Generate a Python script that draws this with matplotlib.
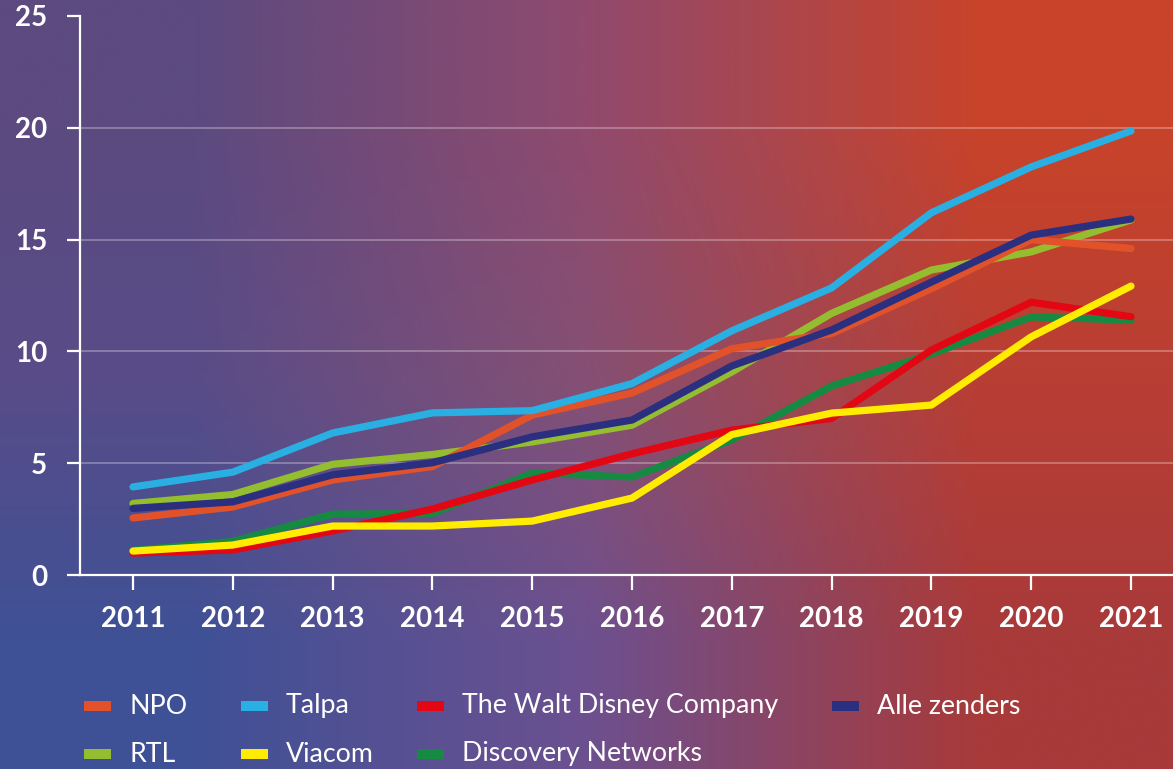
import numpy as np
import matplotlib.pyplot as plt
from matplotlib.colors import to_rgb
from matplotlib.patches import Rectangle

plt.rcParams['font.family'] = ['Lato', 'DejaVu Sans']

years = [2011, 2012, 2013, 2014, 2015, 2016, 2017, 2018, 2019, 2020, 2021]

npo       = [2.55, 3.04, 4.25, 4.85, 7.15, 8.14, 10.12, 10.8, 12.8, 15.0, 14.6]
talpa     = [3.94, 4.6, 6.35, 7.25, 7.35, 8.56, 10.92, 12.84, 16.2, 18.25, 19.86]
disney    = [0.98, 1.12, 1.97, 2.95, 4.25, 5.42, 6.48, 7.0, 10.06, 12.2, 11.55]
alle      = [2.98, 3.27, 4.48, 5.02, 6.18, 6.93, 9.35, 10.96, 13.1, 15.2, 15.92]
rtl       = [3.2, 3.6, 4.95, 5.39, 5.95, 6.7, 9.08, 11.7, 13.64, 14.45, 15.88]
viacom    = [1.07, 1.34, 2.19, 2.19, 2.41, 3.44, 6.28, 7.24, 7.6, 10.65, 12.92]
discovery = [1.1, 1.5, 2.72, 2.75, 4.56, 4.38, 6.04, 8.45, 9.88, 11.54, 11.4]

names = ['NPO', 'Talpa', 'The Walt Disney Company', 'Alle zenders',
         'RTL', 'Viacom', 'Discovery Networks']
series = [npo, talpa, disney, alle, rtl, viacom, discovery]
colors = ['#E2522A', '#2AAFE3', '#E30613', '#2B2F80',
          '#94BE2F', '#FFEC00', '#168A43']
# drawing order (bottom to top)
order = [6, 4, 0, 2, 5, 3, 1]

fig = plt.figure(figsize=(11.73, 7.69), dpi=100)

# background gradient
bg = np.array([
    [to_rgb('#5C4A80'), to_rgb('#904A6E'), to_rgb('#C8432A')],
    [to_rgb('#584C88'), to_rgb('#855074'), to_rgb('#B83E34')],
    [to_rgb('#3F5196'), to_rgb('#6C5090'), to_rgb('#A83A3A')],
])
bax = fig.add_axes([0, 0, 1, 1])
bax.imshow(bg, aspect='auto', interpolation='bilinear', extent=[0, 1, 0, 1])
bax.set_axis_off()

ax = fig.add_axes([80 / 1173, 1 - 575 / 769, 1 - 80 / 1173, (575 - 16) / 769])
ax.patch.set_alpha(0)

for i in order:
    ax.plot(years, series[i], color=colors[i], lw=5.2,
            solid_capstyle='round', solid_joinstyle='round', zorder=3)

ax.set_xlim(2011 - 53 / 99.8, 2021 + 42 / 99.8)
ax.set_ylim(0, 25)
ax.set_xticks(years)
ax.set_yticks([0, 5, 10, 15, 20, 25])
for y in [5, 10, 15, 20]:
    ax.axhline(y, color='white', alpha=0.3, lw=1.3, zorder=1)

for s in ['top', 'right']:
    ax.spines[s].set_visible(False)
for s in ['left', 'bottom']:
    ax.spines[s].set_color('white')
    ax.spines[s].set_linewidth(1.6)

ax.tick_params(axis='x', colors='white', length=11, width=1.6, pad=11,
               labelsize=20)
ax.tick_params(axis='y', colors='white', length=9.5, width=1.6, pad=14,
               labelsize=20)
for lab in ax.get_xticklabels() + ax.get_yticklabels():
    lab.set_fontweight('bold')

# legend (text start x, row y in pixels)
leg_x = [129, 286, 462, 877, 129, 286, 462]
leg_y = [706, 706, 706, 706, 754, 754, 754]
for i in range(len(names)):
    x0 = leg_x[i] / 1173
    y0 = 1 - leg_y[i] / 769
    fig.patches.append(Rectangle((x0 - 45 / 1173, y0 - 5 / 769), 27 / 1173,
                                 10 / 769, transform=fig.transFigure,
                                 color=colors[i], lw=0))
    fig.text(x0, y0, names[i], color='white', fontsize=19.3,
             va='center', ha='left')

fig.savefig('out.png', dpi=100)
